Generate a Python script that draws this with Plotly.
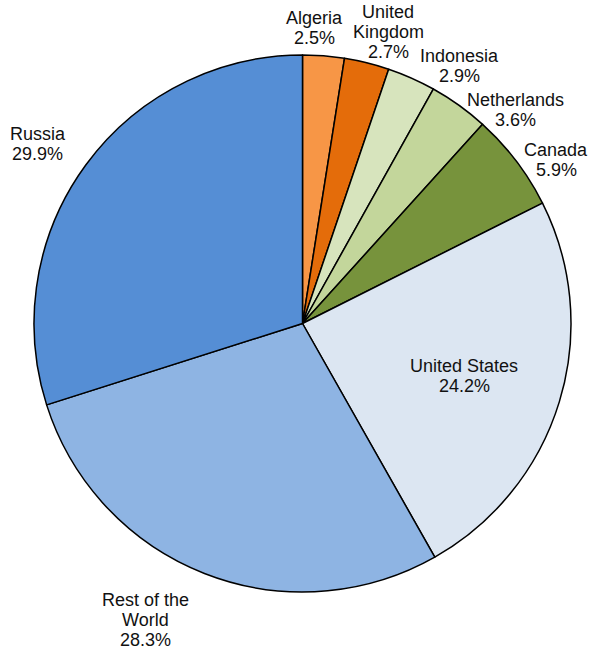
import math
import plotly.graph_objects as go

# Share of world natural gas production by country
countries = ["Algeria", "United<br>Kingdom", "Indonesia", "Netherlands", "Canada",
             "United States", "Rest of the<br>World", "Russia"]
shares = [2.5, 2.7, 2.9, 3.6, 5.9, 24.2, 28.3, 29.9]
colors = ["#F79646", "#E46C0A", "#D7E4BD", "#C3D69B", "#77933C",
          "#DCE6F2", "#8EB4E3", "#558ED5"]

# Label placement: angular nudge (deg) from each slice's mid-angle and distance from centre (px)
label_nudge = [-2.2, 2.5, 7.4, 9.3, 4.5, 0.9, 6.5, -2.0]
label_dist = [296, 304, 302, 301, 302, 170, 335, 320]

W, H = 589, 655
cx, cy, r = 302.5, 323.5, 268.5
font = dict(family="Liberation Sans, Arial, sans-serif", size=18, color="#111111")
line_gap = 20

fig = go.Figure(go.Pie(
    labels=countries,
    values=shares,
    sort=False,
    direction="clockwise",
    rotation=0,
    marker=dict(colors=colors, line=dict(color="#000000", width=1.5)),
    textinfo="none",
    showlegend=False,
    hoverinfo="skip",
    domain=dict(x=[(cx - r) / W, (cx + r) / W], y=[1 - (cy + r) / H, 1 - (cy - r) / H]),
))

# Data labels: slice name and percentage, positioned around each slice's mid-angle
total = sum(shares)
cum = 0.0
for name, val, nudge, dist in zip(countries, shares, label_nudge, label_dist):
    mid = (cum + val / 2) / total * 360.0
    cum += val
    ang = math.radians(mid + nudge)
    px = cx + dist * math.sin(ang)
    py = cy - dist * math.cos(ang)
    lines = name.split("<br>") + [f"{val:.1f}%"]
    n = len(lines)
    for i, txt in enumerate(lines):
        fig.add_annotation(
            x=px / W, y=1 - py / H, xref="paper", yref="paper",
            text=txt, showarrow=False, font=font,
            xanchor="center", yanchor="middle",
            yshift=((n - 1) / 2 - i) * line_gap,
        )

fig.update_layout(
    width=W, height=H,
    margin=dict(l=0, r=0, t=0, b=0),
    paper_bgcolor="white",
    plot_bgcolor="white",
)

fig.write_html("out.html")
